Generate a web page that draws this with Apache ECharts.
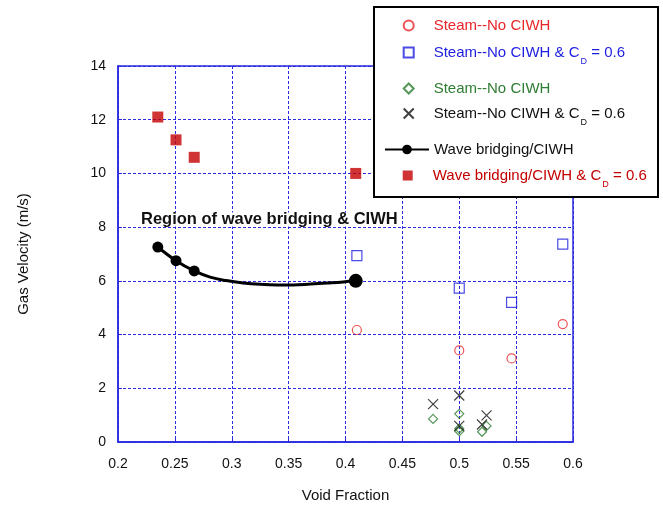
<!DOCTYPE html>
<html>
<head>
<meta charset="utf-8">
<script src="https://cdn.jsdelivr.net/npm/echarts@6/dist/echarts.min.js"></script>
<style>
  html, body { margin: 0; padding: 0; background: #fff; }
  #main { width: 663px; height: 508px; }
</style>
</head>
<body>
<div id="main"></div>
<script>
// series values
const steamX = [0.41, 0.5, 0.546, 0.591];
const steamY = [4.17, 3.41, 3.11, 4.39];
const steamCdX = [0.41, 0.5, 0.546, 0.591];
const steamCdY = [6.94, 5.73, 5.2, 7.37];
const steam2X = [0.477, 0.5, 0.5, 0.5, 0.52, 0.524];
const steam2Y = [0.86, 1.05, 0.5, 0.4, 0.38, 0.6];
const steam2CdX = [0.477, 0.5, 0.5, 0.52, 0.524];
const steam2CdY = [1.41, 1.73, 0.6, 0.65, 0.99];
// wave bridging curve
const bridgeX = [0.235, 0.251, 0.267, 0.281, 0.295, 0.31, 0.325, 0.34, 0.354, 0.369, 0.384, 0.398, 0.409];
const bridgeY = [7.26, 6.75, 6.37, 6.14, 6.01, 5.92, 5.87, 5.85, 5.85, 5.88, 5.92, 5.96, 6.0];
const bridgeMarks = [0, 1, 2, 12];
const bridgeCdX = [0.235, 0.251, 0.267, 0.409];
const bridgeCdY = [12.1, 11.25, 10.6, 10.0];

const xTicks = [0.2, 0.25, 0.3, 0.35, 0.4, 0.45, 0.5, 0.55, 0.6];
const yTicks = [0, 2, 4, 6, 8, 10, 12, 14];

const seriesNames = ['s1', 's2', 's3', 's4', 's5', 's6'];
const legendMain = ['Steam--No CIWH', 'Steam--No CIWH & C', 'Steam--No CIWH', 'Steam--No CIWH & C', 'Wave bridging/CIWH', 'Wave bridging/CIWH & C'];
const legendSub = ['', 'D', '', 'D', '', 'D'];
const legendTail = ['', ' = 0.6', '', ' = 0.6', '', ' = 0.6'];
const legendColors = ['#e8262a', '#1e1ee0', '#2e7d32', '#111111', '#111111', '#c40000'];
const legendCenters = [24, 51, 87, 112, 148, 174];

const pairs = (xs, ys) => xs.map((x, i) => [x, ys[i]]);

const blue = '#2a2ae0';
const font = '"Liberation Sans", Arial, sans-serif';

const chart = echarts.init(document.getElementById('main'), null, { renderer: 'canvas' });

const legends = seriesNames.map((name, i) => {
  const c = legendColors[i];
  const isLine = i === 4;
  const hasSub = !!legendSub[i];
  return {
    data: [name],
    orient: 'vertical',
    left: isLine ? 384 : 402.7,
    top: legendCenters[i] - (hasSub ? 12 : 6),
    padding: 0,
    itemWidth: isLine ? 44 : 10,
    itemHeight: isLine ? 12 : 10,
    symbolKeepAspect: true,
    selectedMode: false,
    formatter: () => {
      let s = '{t|' + legendMain[i] + '}';
      if (hasSub) s += '{sub|' + legendSub[i] + '}{e|' + legendTail[i] + '}';
      return s;
    },
    textStyle: {
      color: c,
      fontFamily: font,
      fontSize: 15,
      rich: {
        t: { color: c, fontFamily: font, fontSize: 15, lineHeight: 28, padding: [0, 0, 0, isLine ? 0 : 15] },
        e: { color: c, fontFamily: font, fontSize: 15, lineHeight: 28 },
        sub: { color: c, fontFamily: font, fontSize: 9, lineHeight: 10, padding: [18, 0, 0, 1] }
      }
    }
  };
});

const option = {
  backgroundColor: '#fff',
  animation: false,
  grid: {
    left: 118, top: 66, right: 90, bottom: 66,
    show: true, borderColor: blue, borderWidth: 1.5
  },
  legend: legends,
  xAxis: {
    type: 'value', min: 0.2, max: 0.6, interval: 0.05,
    name: 'Void Fraction', nameLocation: 'middle', nameGap: 46,
    nameTextStyle: { color: '#111', fontFamily: font, fontSize: 15 },
    axisLine: { lineStyle: { color: blue, width: 1.5 } },
    axisTick: { inside: true, length: 4, lineStyle: { color: blue } },
    axisLabel: {
      color: '#111', fontFamily: font, fontSize: 14, margin: 15,
      formatter: v => String(xTicks.find(t => Math.abs(t - v) < 1e-6) ?? +v.toFixed(2))
    },
    splitLine: { show: true, lineStyle: { color: blue, type: [3, 2], width: 1 } }
  },
  yAxis: {
    type: 'value', min: 0, max: 14, interval: 2,
    name: 'Gas Velocity (m/s)', nameLocation: 'middle', nameGap: 87,
    nameTextStyle: { color: '#111', fontFamily: font, fontSize: 15 },
    axisLine: { lineStyle: { color: blue, width: 1.5 } },
    axisTick: { inside: true, length: 4, lineStyle: { color: blue } },
    axisLabel: {
      color: '#111', fontFamily: font, fontSize: 14, margin: 12,
      formatter: v => String(yTicks.find(t => t === v) ?? v)
    },
    splitLine: { show: true, lineStyle: { color: blue, type: [3, 2], width: 1 } }
  },
  graphic: [
    {
      type: 'rect', z: 3,
      shape: { x: 374, y: 7, width: 284, height: 190 },
      style: { fill: '#fff', stroke: '#000', lineWidth: 2 }
    },
    {
      type: 'text', z: 5, left: 140, top: 211,
      style: {
        text: 'Region of wave bridging & CIWH',
        fill: '#111', font: 'bold 16.5px ' + font, lineHeight: 14,
        backgroundColor: '#fff', padding: [0, 1, 0, 1]
      }
    }
  ],
  series: [
    {
      name: 's1', type: 'scatter', symbol: 'circle', symbolSize: 9, symbolKeepAspect: true,
      itemStyle: { color: 'transparent', borderColor: '#e8262a', borderWidth: 1.2 },
      data: pairs(steamX, steamY)
    },
    {
      name: 's2', type: 'scatter', symbol: 'rect', symbolSize: 10, symbolKeepAspect: true,
      itemStyle: { color: 'transparent', borderColor: '#1e1ee0', borderWidth: 1.2 },
      data: pairs(steamCdX, steamCdY)
    },
    {
      name: 's3', type: 'scatter', symbol: 'diamond', symbolSize: 9, symbolKeepAspect: true,
      itemStyle: { color: 'transparent', borderColor: '#2e7d32', borderWidth: 1.2 },
      data: pairs(steam2X, steam2Y)
    },
    {
      name: 's4', type: 'scatter', symbol: 'path://M0,0L10,10M10,0L0,10', symbolSize: 10, symbolKeepAspect: true,
      itemStyle: { color: 'transparent', borderColor: '#111', borderWidth: 1.2 },
      data: pairs(steam2CdX, steam2CdY)
    },
    {
      name: 's5', type: 'line', smooth: 0.4, symbol: 'circle',
      symbolSize: (v, p) => bridgeMarks.indexOf(p.dataIndex) < 0 ? 0 : (p.dataIndex === 12 ? 14 : 11),
      showAllSymbol: true,
      lineStyle: { color: '#000', width: 3 },
      itemStyle: { color: '#000' },
      data: pairs(bridgeX, bridgeY)
    },
    {
      name: 's6', type: 'scatter', symbol: 'rect', symbolSize: 11, symbolKeepAspect: true,
      itemStyle: { color: '#c40000' },
      data: pairs(bridgeCdX, bridgeCdY)
    }
  ]
};

chart.setOption(option);
</script>
</body>
</html>
